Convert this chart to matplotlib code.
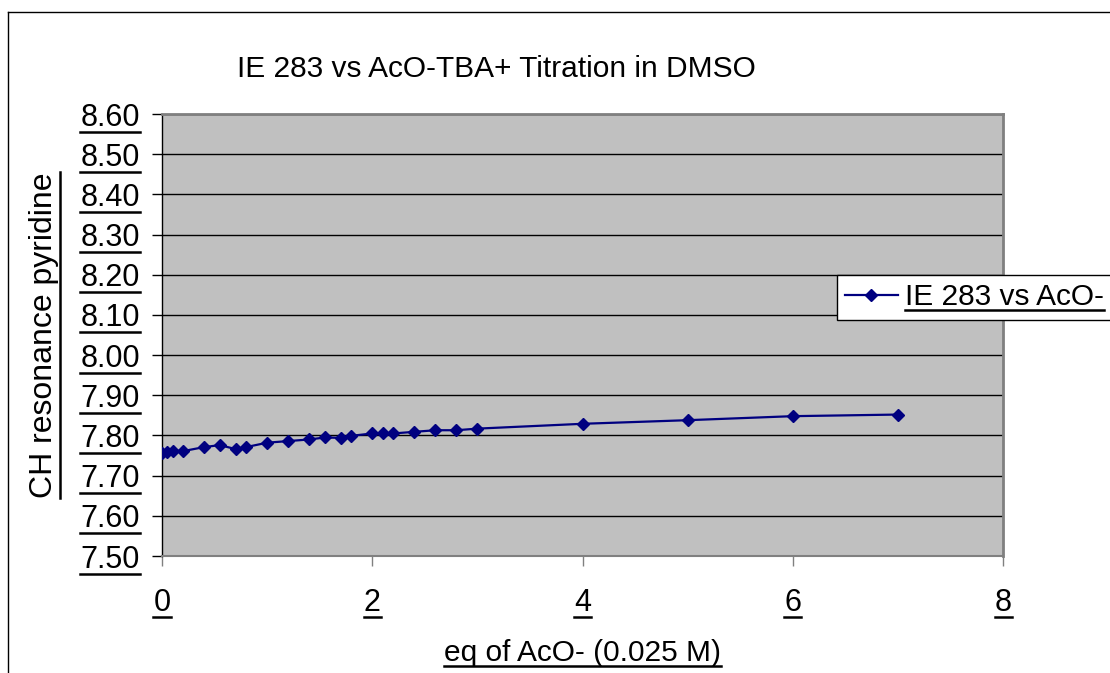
import matplotlib
matplotlib.use("Agg")
import matplotlib.pyplot as plt
from matplotlib.lines import Line2D

plt.rcParams['font.family'] = ['Liberation Sans', 'DejaVu Sans']

# Titration data: equivalents of acetate added vs. pyridine CH shift (ppm)
eq_aco = [0.0, 0.05, 0.1, 0.2, 0.4, 0.55, 0.7, 0.8, 1.0, 1.2, 1.4, 1.55, 1.7,
          1.8, 2.0, 2.1, 2.2, 2.4, 2.6, 2.8, 3.0, 4.0, 5.0, 6.0, 7.0]
ch_shift = [7.757, 7.758, 7.762, 7.761, 7.771, 7.776, 7.766, 7.771, 7.782,
            7.786, 7.790, 7.795, 7.794, 7.799, 7.805, 7.805, 7.805, 7.809,
            7.813, 7.813, 7.817, 7.829, 7.838, 7.848, 7.852]

x_ticks = [0, 2, 4, 6, 8]
y_ticks = [7.50, 7.60, 7.70, 7.80, 7.90, 8.00, 8.10, 8.20, 8.30, 8.40, 8.50, 8.60]

title = "IE 283 vs AcO-TBA+ Titration in DMSO"
series_name = "IE 283 vs AcO-"
x_title = "eq of AcO- (0.025 M)"
y_title = "CH resonance pyridine"

W, H = 1110, 673
fig = plt.figure(figsize=(W / 100, H / 100), dpi=100)

def fx(px):
    return px / W

def fy(py):
    return 1 - py / H

# chart frame
fig.add_artist(Line2D([fx(8), fx(8)], [fy(12), fy(H + 5)], color='black', lw=1.0,
                      transform=fig.transFigure))
fig.add_artist(Line2D([fx(8), fx(W + 5)], [fy(12), fy(12)], color='black', lw=1.0,
                      transform=fig.transFigure))

left, right, top, bottom = 162, 1003, 114, 556
ax = fig.add_axes([fx(left), fy(bottom), fx(right - left), (bottom - top) / H])
ax.set_facecolor('#C0C0C0')

ax.plot(eq_aco, ch_shift, color='#000080', lw=1.6, marker='D', markersize=6.5,
        markerfacecolor='#000080', markeredgecolor='#000080', label=series_name,
        zorder=3)

ax.set_xlim(0, 8)
ax.set_ylim(7.50, 8.60)
ax.set_xticks(x_ticks)
ax.set_xticklabels([str(v) for v in x_ticks])
ax.set_yticks(y_ticks)
ax.set_yticklabels(["%.2f" % v for v in y_ticks])
ax.yaxis.grid(True, color='black', lw=1.0)
ax.set_axisbelow(True)

for side in ('top', 'right'):
    ax.spines[side].set_color('#808080')
    ax.spines[side].set_linewidth(2.0)
ax.spines['bottom'].set_color('#808080')
ax.spines['bottom'].set_linewidth(1.5)
ax.spines['left'].set_color('black')
ax.spines['left'].set_linewidth(1.0)

ax.tick_params(axis='y', direction='out', length=7, width=1, color='black',
               labelsize=22, pad=9)
ax.tick_params(axis='x', direction='out', length=7, width=1, color='#808080',
               labelsize=22, pad=16)

ax.set_xlabel(x_title, fontsize=21.5, labelpad=15)
ax.set_ylabel(y_title, fontsize=23, labelpad=15)

fig.text(fx(496), fy(77), title, fontsize=21.5, ha='center', va='baseline')

leg = ax.legend(loc='upper left', bbox_to_anchor=(fx(837), fy(275)),
                bbox_transform=fig.transFigure, fontsize=21.5, frameon=True,
                fancybox=False, edgecolor='black', framealpha=1.0,
                borderpad=0.28, handlelength=1.75, handletextpad=0.25,
                borderaxespad=0)
leg.get_frame().set_linewidth(1.0)

# underline the axis texts
fig.canvas.draw()
renderer = fig.canvas.get_renderer()

def underline(txt, vertical=False):
    bb = txt.get_window_extent(renderer)
    if vertical:
        x = bb.x1 + 1
        fig.add_artist(Line2D([x / W, x / W], [bb.y0 / H, bb.y1 / H], color='black',
                              lw=1.8, transform=fig.transFigure))
    else:
        y = bb.y0 + 1
        fig.add_artist(Line2D([bb.x0 / W, bb.x1 / W], [y / H, y / H], color='black',
                              lw=1.8, transform=fig.transFigure))

for t in ax.get_xticklabels() + ax.get_yticklabels():
    underline(t)
underline(ax.xaxis.label)
underline(ax.yaxis.label, vertical=True)
for t in leg.get_texts():
    underline(t)

fig.savefig("out.png", dpi=100)
